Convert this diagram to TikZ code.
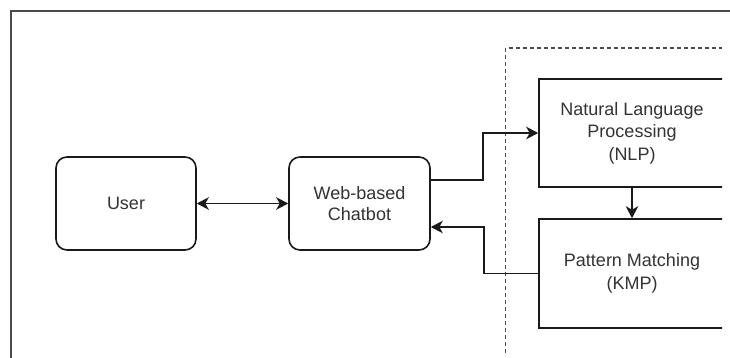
\documentclass[tikz,border=0pt]{standalone}
\usepackage{fontspec}
\setmainfont{Liberation Sans}
\usetikzlibrary{arrows.meta}
\definecolor{ink}{HTML}{1A1A1A}
\definecolor{txt}{HTML}{333333}
\definecolor{frame}{HTML}{4A4A4A}
\tikzset{
  rbox/.style={draw=ink, line width=1.6pt, rounded corners=11pt, fill=white,
    minimum width=140pt, minimum height=93pt, align=center, text=txt,
    font=\fontsize{18}{21.5}\selectfont},
  sbox/.style={draw=ink, line width=1.6pt, fill=white,
    minimum width=186pt, minimum height=108pt, align=center, text=txt,
    font=\fontsize{18}{22.5}\selectfont},
  conn/.style={draw=ink, line width=1.6pt, -{Stealth[length=12pt,width=12.5pt,inset=3.5pt]}},
  biconn/.style={draw=ink, line width=1.6pt,
    {Stealth[length=12pt,width=12.5pt,inset=3.5pt]}-{Stealth[length=12pt,width=12.5pt,inset=3.5pt]}},
}
\begin{document}
\begin{tikzpicture}[x=1pt,y=-1pt]
\useasboundingbox (0,0) rectangle (730,358);
\fill[white] (0,0) rectangle (730,358);
% outer frame
\draw[frame, line width=1.8pt] (11,358) -- (11,11) -- (730,11);
\begin{scope}
\clip (0,0) rectangle (722,358);
% dashed group boundary
\draw[frame, line width=1.4pt, dash pattern=on 4pt off 3pt] (505.5,353) -- (505.5,48) -- (722,48);
% nodes
\node[rbox] (user) at (126,203.5) {User};
\node[rbox, minimum width=141pt] (bot) at (359.5,203.5) {Web-based\\Chatbot};
\node[sbox] (nlp) at (632,133) {Natural Language\\Processing\\(NLP)};
\node[sbox, minimum height=109pt] (kmp) at (632,273.5) {Pattern Matching\\(KMP)};
% connectors
\draw[biconn] (user) -- (bot);
\draw[conn] ([yshift=23.5pt]bot.east) -| ([xshift=-55pt]nlp.west) -- (nlp.west);
\draw[conn] (nlp.south) -- (kmp.north);
\draw[conn] (kmp.west) -- ++(-54pt,0) |- ([yshift=-23.5pt]bot.east);
\end{scope}
\end{tikzpicture}
\end{document}
